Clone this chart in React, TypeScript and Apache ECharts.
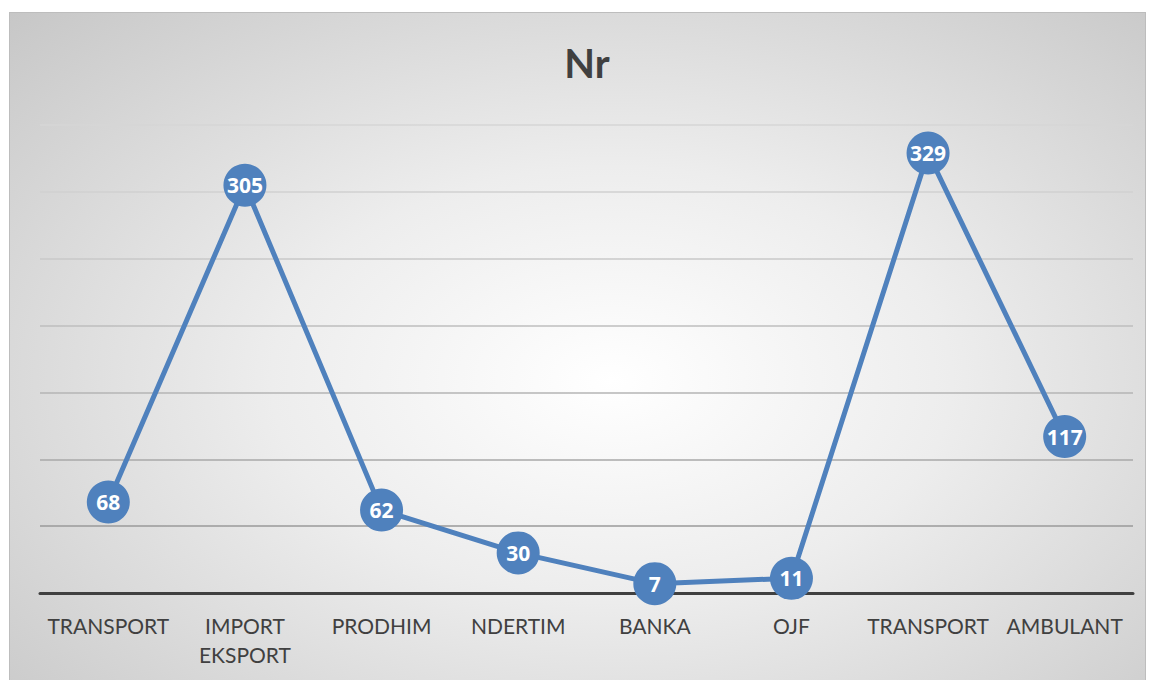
import React, { useEffect, useRef } from "react";
import * as echarts from "echarts";

const categories = ["TRANSPORT", "IMPORT\nEKSPORT", "PRODHIM", "NDERTIM", "BANKA", "OJF", "TRANSPORT", "AMBULANT"];
const values = [68, 305, 62, 30, 7, 11, 329, 117];
const titleText = "Nr";

export default function App() {
  const ref = useRef<HTMLDivElement>(null);
  useEffect(() => {
    const chart = echarts.init(ref.current!, undefined, { renderer: "svg" });
    chart.setOption({
      animation: false,
      backgroundColor: "transparent",
      title: {
        text: titleText,
        left: 582,
        textAlign: "center",
        top: 38,
        textStyle: { fontFamily: "Lato", fontSize: 40, fontWeight: "bold", color: "#404040" },
      },
      grid: { left: 40, right: 18, top: 125, bottom: 87, containLabel: false },
      xAxis: {
        type: "category",
        data: categories,
        boundaryGap: true,
        axisLine: { show: true, lineStyle: { color: "#404040", width: 3 } },
        axisTick: { show: false },
        axisLabel: {
          interval: 0,
          margin: 18,
          color: "#404040",
          fontFamily: "Lato",
          fontSize: 21,
          lineHeight: 29,
          verticalAlign: "top",
        },
      },
      yAxis: {
        type: "value",
        min: 0,
        max: 350,
        interval: 50,
        axisLabel: { show: false },
        axisLine: { show: false },
        axisTick: { show: false },
        splitLine: {
          show: true,
          lineStyle: {
            width: 1.5,
            color: ["#888888", "#9a9a9a", "#a8a8a8", "#b4b4b4", "#bebebe", "#c8c8c8", "#d0d0d0", "#d6d6d6"],
          },
        },
      },
      series: [
        {
          type: "line",
          data: values,
          symbol: "circle",
          symbolSize: 43,
          lineStyle: { color: "#4f81bd", width: 5 },
          itemStyle: { color: "#4f81bd" },
          label: {
            show: true,
            position: "inside",
            color: "#ffffff",
            fontFamily: "Open Sans",
            fontWeight: "bold",
            fontSize: 21,
          },
        },
      ],
    });
    return () => chart.dispose();
  }, []);
  return (
    <div style={{ position: "fixed", left: 0, top: 0, width: 1151, height: 680, background: "#ffffff" }}>
      <div
        style={{
          position: "absolute",
          left: 9,
          top: 12,
          width: 1137,
          height: 670,
          border: "1.5px solid #bdbdbd",
          boxSizing: "border-box",
          background: "radial-gradient(ellipse 75% 80% at 53% 55%, #ffffff 0%, #ededed 40%, #c6c6c6 100%)",
        }}
      />
      <div ref={ref} style={{ position: "absolute", left: 0, top: 0, width: 1151, height: 680 }} />
    </div>
  );
}
